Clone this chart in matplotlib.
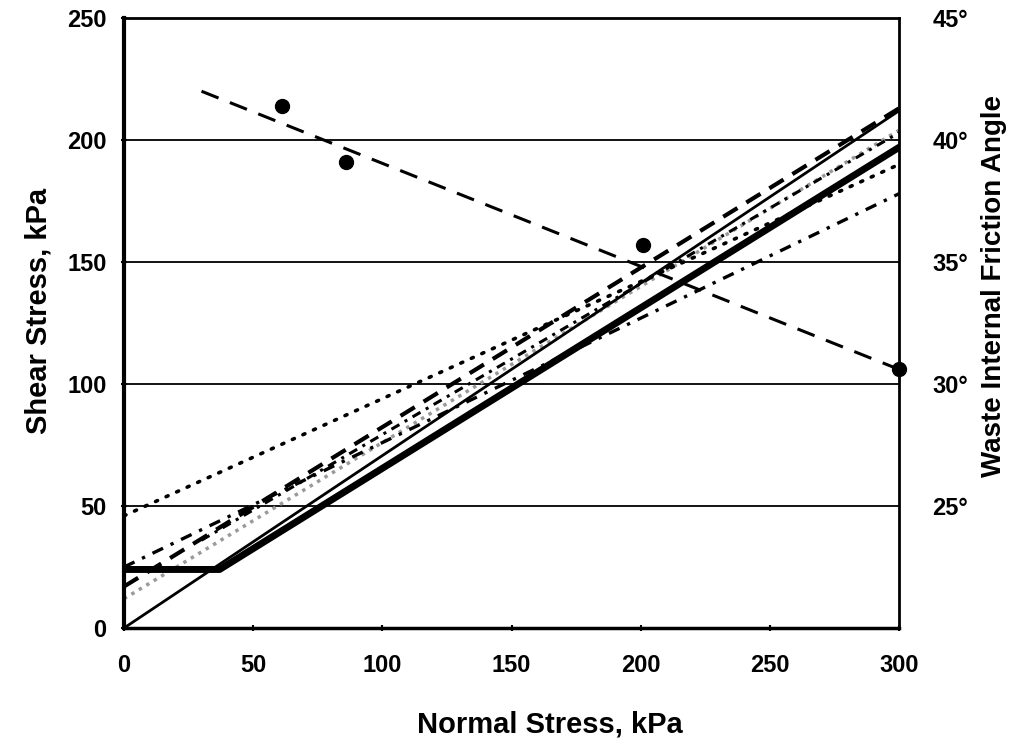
import matplotlib
matplotlib.use("Agg")
import matplotlib.pyplot as plt

# --- data ---
normal_stress_ticks = [0, 50, 100, 150, 200, 250, 300]
shear_ticks = [0, 50, 100, 150, 200, 250]
angle_ticks = [25, 30, 35, 40, 45]
angle_tick_labels = ["25°", "30°", "35°", "40°", "45°"]

# strength envelopes (normal stress kPa, shear stress kPa)
thin_solid_x = [0, 300]
thin_solid_y = [0, 212]
thick_solid_x = [0, 37, 300]
thick_solid_y = [24, 24, 197]
long_dash_x = [0, 300]
long_dash_y = [17, 213]
dotted_x = [0, 300]
dotted_y = [46, 190]
dash_dot_x = [0, 300]
dash_dot_y = [25, 178]
dash_dot2_x = [30, 300]
dash_dot2_y = [36, 203]
gray_x = [0, 300]
gray_y = [12, 204]

# friction angle data (right axis)
angle_pts_x = [61, 86, 201, 300]
angle_pts_y = [41.4, 39.1, 35.7, 30.6]
angle_fit_x = [30, 300]
angle_fit_y = [42.0, 30.6]

plt.rcParams['font.family'] = ['Liberation Sans', 'DejaVu Sans']
plt.rcParams['font.weight'] = 'bold'

tick_fs = 17
label_fs = 21

fig = plt.figure(figsize=(10.13, 7.42), dpi=100)
ax = fig.add_axes([0.1224, 0.1536, 0.7651, 0.8221])

ax.set_xlim(0, 300)
ax.set_ylim(0, 250)
for g in [50, 100, 150, 200]:
    ax.axhline(g, color='black', lw=1.3, zorder=1)

ax.plot(gray_x, gray_y, color='#9a9a9a', lw=2.5, ls=(0, (1, 1.5)), zorder=2)
ax.plot(dotted_x, dotted_y, color='black', lw=2.6, ls=(0, (0.6, 2.6)),
        dash_capstyle='round', zorder=3)
ax.plot(long_dash_x, long_dash_y, color='black', lw=3.0, ls=(0, (4, 2.5)), zorder=3)
ax.plot(dash_dot2_x, dash_dot2_y, color='black', lw=2.2, ls=(0, (3, 2, 1, 2)), zorder=3)
ax.plot(dash_dot_x, dash_dot_y, color='black', lw=2.4, ls=(0, (3.5, 2.5, 1, 2.5)), zorder=3)
ax.plot(thin_solid_x, thin_solid_y, color='black', lw=2.0, zorder=4)
ax.plot(thick_solid_x, thick_solid_y, color='black', lw=5.0, zorder=4)

ax.set_xticks(normal_stress_ticks)
ax.set_yticks(shear_ticks)
ax.tick_params(axis='both', labelsize=tick_fs, width=1.5, length=5, direction='inout')
ax.tick_params(axis='x', pad=16)
ax.tick_params(axis='y', pad=10)
for lab in ax.get_xticklabels() + ax.get_yticklabels():
    lab.set_fontweight('bold')
for s in ax.spines.values():
    s.set_linewidth(2.0)
ax.spines['left'].set_linewidth(3.0)
ax.spines['bottom'].set_linewidth(2.5)

ax.set_xlabel("Normal Stress, kPa", fontsize=label_fs, fontweight='bold')
ax.xaxis.set_label_coords(0.55, -0.135)
ax.set_ylabel("Shear Stress, kPa", fontsize=label_fs, fontweight='bold')
ax.yaxis.set_label_coords(-0.092, 0.52)

ax2 = ax.twinx()
ax2.set_ylim(20, 45)
ax2.set_yticks(angle_ticks)
ax2.set_yticklabels(angle_tick_labels)
ax2.tick_params(axis='y', labelsize=tick_fs, length=0, pad=24)
for lab in ax2.get_yticklabels():
    lab.set_fontweight('bold')
for s in ax2.spines.values():
    s.set_visible(False)
ax2.plot(angle_fit_x, angle_fit_y, color='black', lw=2.2, ls=(0, (6, 4)), zorder=5)
ax2.plot(angle_pts_x, angle_pts_y, 'o', color='black', ms=10, zorder=6, clip_on=False)
ax2.set_ylabel("Waste Internal Friction Angle", fontsize=20, fontweight='bold')
ax2.yaxis.set_label_coords(1.106, 0.56)

fig.savefig("out.png", dpi=100)
